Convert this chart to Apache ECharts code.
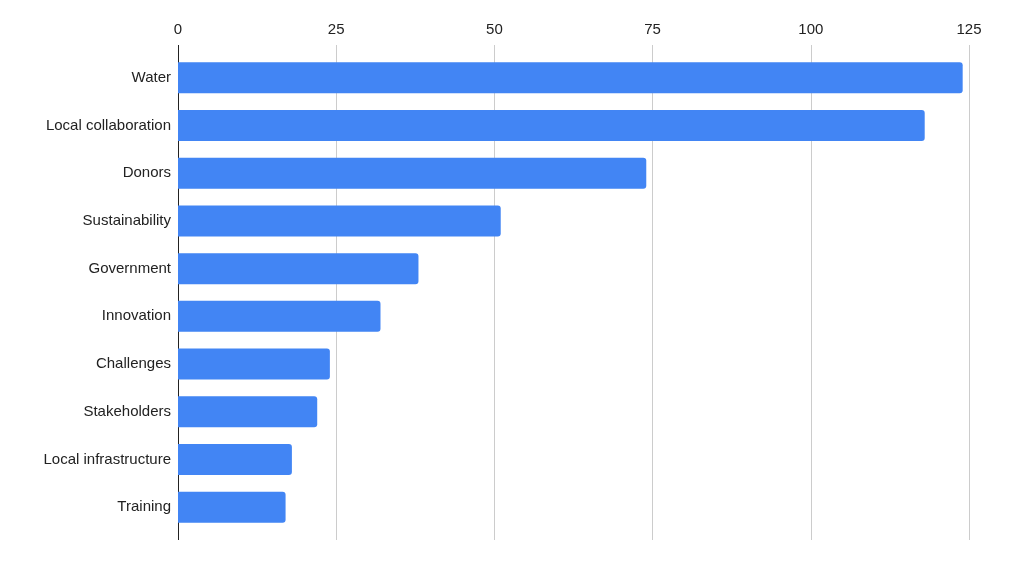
<!DOCTYPE html>
<html><head><meta charset="utf-8">
<script src="https://cdn.jsdelivr.net/npm/echarts@6/dist/echarts.min.js"></script>
<style>html,body{margin:0;padding:0;background:#fff}#c{width:1023px;height:574px}</style>
</head><body><div id="c"></div>
<script>
var categories = ["Water","Local collaboration","Donors","Sustainability","Government","Innovation","Challenges","Stakeholders","Local infrastructure","Training"];
var values = [124,118,74,51,38,32,24,22,18,17];
var tickValues = [0,25,50,75,100,125];

var chart = echarts.init(document.getElementById('c'));
var font = "'Liberation Sans', Arial, sans-serif";
function extAxis(pos){
  return {
    type:'value', position:pos, offset:0, min:0, max:125, interval:25,
    axisLine:{show:false},
    axisTick:{show:true,length:9,customValues:[0],lineStyle:{color:'#222',width:1}},
    axisLabel:{show:false}, splitLine:{show:false}
  };
}
chart.setOption({
  animation:false,
  grid:{left:178,right:54,top:54,bottom:43},
  xAxis:[{
    type:'value', position:'top', min:0, max:125, interval:25,
    axisLine:{show:false},
    axisTick:{show:true,length:9,lineStyle:{color:'#cccccc',width:1}},
    axisLabel:{margin:17,color:'#222',fontSize:15,fontFamily:font},
    splitLine:{show:true,lineStyle:{color:'#cccccc',width:1}}
  },{
    type:'value', position:'bottom', min:0, max:125, interval:25,
    axisLine:{show:false},
    axisTick:{show:true,length:9,lineStyle:{color:'#cccccc',width:1}},
    axisLabel:{show:false}, splitLine:{show:false}
  }, extAxis('top'), extAxis('bottom')],
  yAxis:{
    type:'category', data:categories, inverse:true,
    axisLine:{show:true,lineStyle:{color:'#222',width:1}},
    axisTick:{show:false},
    axisLabel:{margin:7,color:'#222',fontSize:15,fontFamily:font}
  },
  series:[{
    type:'bar', data:values, xAxisIndex:0,
    barCategoryGap:'35%',
    itemStyle:{color:'#4285F4',borderRadius:[0,3,3,0]}
  }]
});
</script></body></html>
